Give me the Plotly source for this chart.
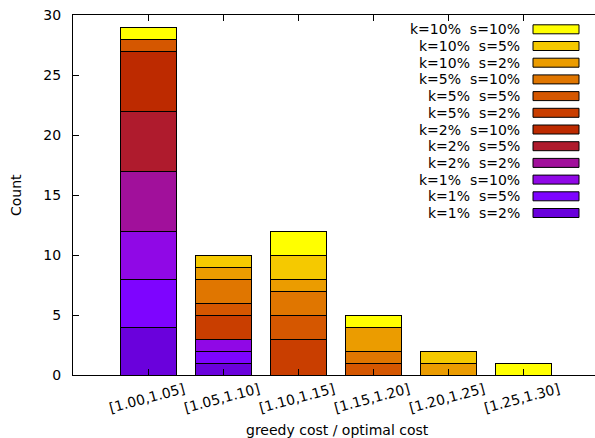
import plotly.graph_objects as go

# Histogram bins of the greedy/optimal cost ratio
bins = ["[1.00,1.05]", "[1.05,1.10]", "[1.10,1.15]", "[1.15,1.20]", "[1.20,1.25]", "[1.25,1.30]"]

# Series names in stacking order (bottom to top)
series_names = [
    "k=1%  s=2%", "k=1%  s=5%", "k=1%  s=10%",
    "k=2%  s=2%", "k=2%  s=5%", "k=2%  s=10%",
    "k=5%  s=2%", "k=5%  s=5%", "k=5%  s=10%",
    "k=10%  s=2%", "k=10%  s=5%", "k=10%  s=10%",
]

# Counts per bin for each series
k1_s2 = [4, 1, 0, 0, 0, 0]
k1_s5 = [4, 1, 0, 0, 0, 0]
k1_s10 = [4, 1, 0, 0, 0, 0]
k2_s2 = [5, 0, 0, 0, 0, 0]
k2_s5 = [5, 0, 0, 0, 0, 0]
k2_s10 = [5, 0, 0, 0, 0, 0]
k5_s2 = [0, 2, 3, 0, 0, 0]
k5_s5 = [1, 1, 2, 1, 0, 0]
k5_s10 = [0, 2, 2, 1, 0, 0]
k10_s2 = [0, 1, 1, 2, 1, 0]
k10_s5 = [0, 1, 2, 0, 1, 0]
k10_s10 = [1, 0, 2, 1, 0, 1]

series_values = [k1_s2, k1_s5, k1_s10, k2_s2, k2_s5, k2_s10,
                 k5_s2, k5_s5, k5_s10, k10_s2, k10_s5, k10_s10]

# gnuplot-like palette (black-blue-violet-yellow)
colors = ["#6a01dc", "#7e04ff", "#9008e6", "#a1109b", "#af1b2d", "#bd2a00",
          "#c93e00", "#d55700", "#e07600", "#eb9c00", "#f5c900", "#ffff00"]

FONT = "DejaVu Sans"
W, H = 595, 438
L, R, T, B = 73, 0, 15, 63
plot_w = W - L - R
plot_h = H - T - B

fig = go.Figure()
for name, vals, col in zip(series_names, series_values, colors):
    fig.add_trace(go.Bar(
        x=bins,
        y=[v if v else None for v in vals],
        name=name,
        marker=dict(color=col, line=dict(color="black", width=1)),
        width=0.75,
    ))


def px_x(px):
    return (px - L) / plot_w


def px_y(py):
    return (T + plot_h - py) / plot_h


annotations = []
shapes = []

# rotated bin labels under the axis
for b in bins:
    annotations.append(dict(
        x=b, xref="x", y=0, yref="paper", yshift=-23, xshift=-1.5,
        text=b, showarrow=False, textangle=-15,
        xanchor="center", yanchor="middle",
        font=dict(family=FONT, size=14, color="black"),
    ))

# axis titles
annotations.append(dict(
    x=0.5, xref="paper", y=0, yref="paper", yshift=-55, xshift=3,
    text="greedy cost / optimal cost", showarrow=False,
    xanchor="center", yanchor="middle",
    font=dict(family=FONT, size=14, color="black"),
))
annotations.append(dict(
    x=0, xref="paper", y=0.5, yref="paper", xshift=-L + 16,
    text="Count", showarrow=False, textangle=-90,
    xanchor="center", yanchor="middle",
    font=dict(family=FONT, size=14, color="black"),
))

# key: label on the left, swatch on the right, top entry is the last series
row0, row_step = 29.3, 16.7
for i, (name, col) in enumerate(zip(reversed(series_names), reversed(colors))):
    yc = row0 + row_step * i
    annotations.append(dict(
        x=px_x(522), xref="paper", y=px_y(yc), yref="paper",
        text=name, showarrow=False, xanchor="right", yanchor="middle",
        font=dict(family=FONT, size=14, color="black"),
    ))
    shapes.append(dict(
        type="rect", xref="paper", yref="paper",
        x0=px_x(533), x1=px_x(579), y0=px_y(yc + 4.5), y1=px_y(yc - 4.5),
        fillcolor=col, line=dict(color="black", width=1),
    ))

r0 = -1.01
r1 = r0 + plot_w / 75.0

fig.update_layout(
    width=W, height=H,
    margin=dict(l=L, r=R, t=T, b=B, autoexpand=False),
    barmode="stack",
    showlegend=False,
    plot_bgcolor="white",
    paper_bgcolor="white",
    font=dict(family=FONT, size=14, color="black"),
    annotations=annotations,
    shapes=shapes,
    xaxis=dict(
        range=[r0, r1], showgrid=False, zeroline=False,
        showline=True, linecolor="black", linewidth=1, mirror="ticks",
        ticks="inside", ticklen=6, tickcolor="black",
        showticklabels=False,
    ),
    yaxis=dict(
        range=[0, 30], dtick=5, showgrid=False, zeroline=False,
        showline=True, linecolor="black", linewidth=1, mirror=False,
        ticks="inside", ticklen=6, tickcolor="black",
        ticklabelstandoff=8,
        tickfont=dict(family=FONT, size=14, color="black"),
    ),
)

fig.write_html("out.html")
